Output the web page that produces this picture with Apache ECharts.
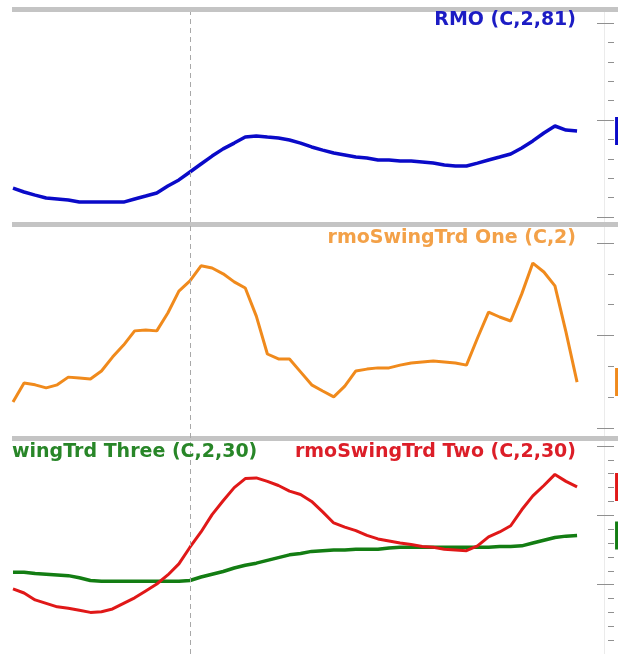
<!DOCTYPE html>
<html><head><meta charset="utf-8">
<script src="https://cdn.jsdelivr.net/npm/echarts@6/dist/echarts.min.js"></script>
<style>html,body{margin:0;padding:0;background:#fff}#c{width:618px;height:654px}</style>
</head><body><div id="c"></div>
<script>
// ---- data (bar index along the time axis) ----
const barIndex = [0,1,2,3,4,5,6,7,8,9,10,11,12,13,14,15,16,17,18,19,20,21,22,23,24,25,
  26,27,28,29,30,31,32,33,34,35,36,37,38,39,40,41,42,43,44,45,46,47,48,49,50,51];
const rmo = [14.9,12.9,11.3,9.8,9.3,8.8,7.7,7.7,7.7,7.7,7.7,9.3,10.8,12.4,16.0,19.1,23.2,27.3,31.4,35.1,
  38.1,41.2,41.8,41.2,40.7,39.7,38.1,36.1,34.5,33.0,32.0,30.9,30.4,29.4,29.4,28.9,28.9,28.4,27.8,26.8,
  26.3,26.3,27.8,29.4,30.9,32.5,35.6,39.2,43.3,46.9,44.8,44.3];
const swingOne = [8.4,14.6,14.0,13.0,14.0,16.5,16.2,15.9,18.5,23.0,26.9,31.5,31.8,31.5,37.3,44.4,47.7,52.6,
  51.9,50.0,47.4,45.4,36.3,24.0,22.4,22.4,18.2,14.0,12.0,10.1,13.6,18.5,19.1,19.5,19.5,20.4,21.1,21.4,
  21.7,21.4,21.1,20.4,29.2,37.6,36.0,34.7,43.5,53.5,50.6,46.1,31.1,14.9];
const swingTwo = [9.4,8.8,7.8,7.3,6.8,6.6,6.3,6.0,6.1,6.5,7.3,8.1,9.1,10.1,11.4,13.0,15.4,17.6,20.1,22.1,
  24.0,25.3,25.4,24.9,24.3,23.5,23.0,22.0,20.5,18.9,18.3,17.8,17.1,16.6,16.3,16.0,15.8,15.5,15.4,15.1,
  15.0,14.9,15.6,16.9,17.6,18.5,20.8,22.8,24.3,25.9,24.9,24.1];
const swingThree = [11.8,11.8,11.6,11.5,11.4,11.3,11.0,10.6,10.5,10.5,10.5,10.5,10.5,10.5,10.5,10.5,10.6,
  11.1,11.5,11.9,12.4,12.8,13.1,13.5,13.9,14.3,14.5,14.8,14.9,15.0,15.0,15.1,15.1,15.1,15.3,15.4,15.4,
  15.4,15.4,15.4,15.4,15.4,15.4,15.4,15.5,15.5,15.6,16.0,16.4,16.8,17.0,17.1];
const cursorBar = 16;
const titleTexts = ['RMO (C,2,81)', 'rmoSwingTrd One (C,2)', 'wingTrd Three (C,2,30)', 'rmoSwingTrd Two (C,2,30)'];
const axisRanges = [ {min:0,max:100,interval:50,minor:5}, {min:0,max:60,interval:30,minor:3}, {min:0,max:30,interval:10,minor:5} ];

// ---- chart ----
const pairs = arr => arr.map((v,i) => [barIndex[i], v]);
const FONT = 'DejaVu Sans';
const xMin = -0.09, xMax = 54.34;
const grids = [
  {left:12, right:4, top:23, bottom:437},
  {left:12, right:4, top:243, bottom:226},
  {left:12, right:4, top:446, bottom:-32},
  {left:12, right:4, top:12, bottom:0}
];
const xAxes = grids.map((g,i) => ({type:'value', gridIndex:i, min:xMin, max:xMax, show:false}));
const yAxes = axisRanges.map((r,i) => ({
  type:'value', gridIndex:i, position:'right', min:r.min, max:r.max, interval:r.interval,
  axisLine:{show:false, onZero:false}, axisLabel:{show:false}, splitLine:{show:false},
  axisTick:{show:true, inside:true, length:17, lineStyle:{color:'#909090', width:1}},
  minorTick:{show:true, splitNumber:r.minor, length:6, lineStyle:{color:'#909090', width:1}}
}));
yAxes.push({type:'value', gridIndex:3, min:0, max:1, show:false});

function lineSeries(name, data, idx, color, width){
  return {
    name, type:'line', xAxisIndex:idx, yAxisIndex:idx, data:pairs(data), showSymbol:false, symbol:'none',
    lineStyle:{color, width}, itemStyle:{color}, clip:false, animation:false,
    endLabel:{show:true, distance:38, formatter:p => p.value[1].toFixed(1), color:'#fff',
      backgroundColor:color, padding:[8,4], fontSize:12, fontFamily:FONT}
  };
}
const ttl = (text, pos, color) => Object.assign({text, padding:0,
  textStyle:{fontFamily:FONT, fontWeight:'bold', fontSize:19, color}}, pos);

const chart = echarts.init(document.getElementById('c'), null, {renderer:'canvas'});
chart.setOption({
  backgroundColor:'#ffffff',
  animation:false,
  grid:grids,
  xAxis:xAxes,
  yAxis:yAxes,
  title:[
    ttl(titleTexts[0], {right:42, top:11}, '#1c1cc4'),
    ttl(titleTexts[1], {right:42, top:229}, '#f3a148'),
    ttl(titleTexts[2], {left:12, top:443}, '#288628'),
    ttl(titleTexts[3], {right:42, top:443}, '#dc1e28')
  ],
  graphic:[
    {type:'line', z:-2, shape:{x1:604.5, y1:12, x2:604.5, y2:654}, style:{stroke:'#ebebeb', lineWidth:1}},
    {type:'rect', z:-1, shape:{x:12, y:7, width:606, height:5}, style:{fill:'#c4c4c4'}},
    {type:'rect', z:-1, shape:{x:12, y:222, width:606, height:5}, style:{fill:'#c4c4c4'}},
    {type:'rect', z:-1, shape:{x:12, y:436, width:606, height:5}, style:{fill:'#c4c4c4'}}
  ],
  series:[
    lineSeries('RMO', rmo, 0, '#0a0ac8', 3.5),
    lineSeries('rmoSwingTrd One', swingOne, 1, '#f08a1c', 3),
    lineSeries('rmoSwingTrd Three', swingThree, 2, '#137d13', 3.5),
    lineSeries('rmoSwingTrd Two', swingTwo, 2, '#e01818', 3),
    {type:'line', xAxisIndex:3, yAxisIndex:3, data:[], silent:true,
      markLine:{symbol:'none', silent:true, label:{show:false},
        lineStyle:{color:'#a8a8a8', type:[5,4], width:1},
        data:[{xAxis:cursorBar}]}}
  ]
});
</script>
</body></html>
